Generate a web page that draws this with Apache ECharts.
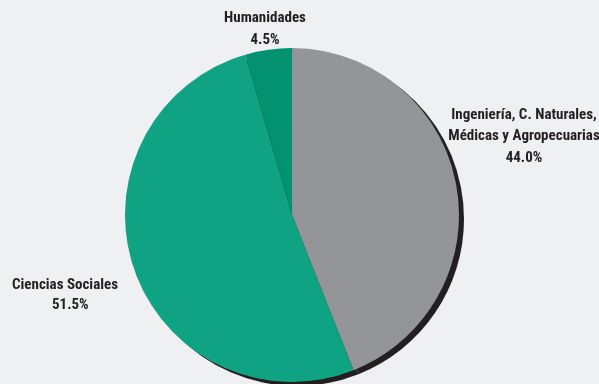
<!DOCTYPE html>
<html>
<head>
<meta charset="utf-8">
<script src="https://cdn.jsdelivr.net/npm/echarts@6/dist/echarts.min.js"></script>
<style>
  html, body { margin: 0; padding: 0; background: #eff0f2; }
  #chart { width: 599px; height: 384px; }
</style>
</head>
<body>
<div id="chart"></div>
<script>
// Distribución por área del conocimiento (%)
var categories = ['Ingeniería, C. Naturales,\nMédicas y Agropecuarias', 'Ciencias Sociales', 'Humanidades'];
var shares = [44.0, 51.5, 4.5];
var sliceColors = ['#939598', '#0fa384', '#03926f'];

// Label anchor points and alignment per slice
var labelSpots = [
  { x: 524, y: 104, align: 'center', lh: 21.5 },
  { x: 12,  y: 275, align: 'left',   lh: 20 },
  { x: 265, y: 7,   align: 'center', lh: 22 }
];

var FONT = '"Roboto Condensed", "DejaVu Sans Condensed", sans-serif';

function richFor(i) {
  var lh = labelSpots[i].lh;
  var base = { fontFamily: FONT, fontWeight: 'bold', fontSize: 15, color: '#231f20', lineHeight: lh };
  return {
    n: base,
    p: Object.assign({}, base, i === 1 ? { padding: [0, 0, 0, 40] } : {})
  };
}

var pieData = categories.map(function (c, i) {
  return {
    name: c,
    value: shares[i],
    itemStyle: { color: sliceColors[i] },
    label: { rich: richFor(i), align: labelSpots[i].align }
  };
});

var chart = echarts.init(document.getElementById('chart'), null, { renderer: 'canvas' });
chart.setOption({
  backgroundColor: '#eff0f2',
  animation: false,
  series: [
    {
      // dark drop shadow under the pie
      type: 'pie',
      silent: true,
      center: [297, 219],
      radius: 167,
      startAngle: 90,
      clockwise: true,
      label: { show: false },
      labelLine: { show: false },
      itemStyle: { color: '#231f20', borderWidth: 0 },
      data: categories.map(function (c, i) { return { name: c, value: shares[i] }; }),
      z: 1
    },
    {
      type: 'pie',
      center: [292, 215],
      radius: 167,
      startAngle: 90,
      clockwise: true,
      itemStyle: { borderWidth: 0 },
      label: {
        show: true,
        position: 'outside',
        overflow: 'none',
        formatter: function (p) {
          var lines = p.name.split('\n').map(function (s) { return '{n|' + s + '}'; });
          lines.push('{p|' + p.value.toFixed(1) + '%}');
          return lines.join('\n');
        }
      },
      labelLine: { show: false },
      labelLayout: function (params) {
        var s = labelSpots[params.dataIndex];
        return { x: s.x, y: s.y, align: s.align, verticalAlign: 'top', hideOverlap: false };
      },
      data: pieData,
      z: 2
    }
  ]
});
</script>
</body>
</html>
